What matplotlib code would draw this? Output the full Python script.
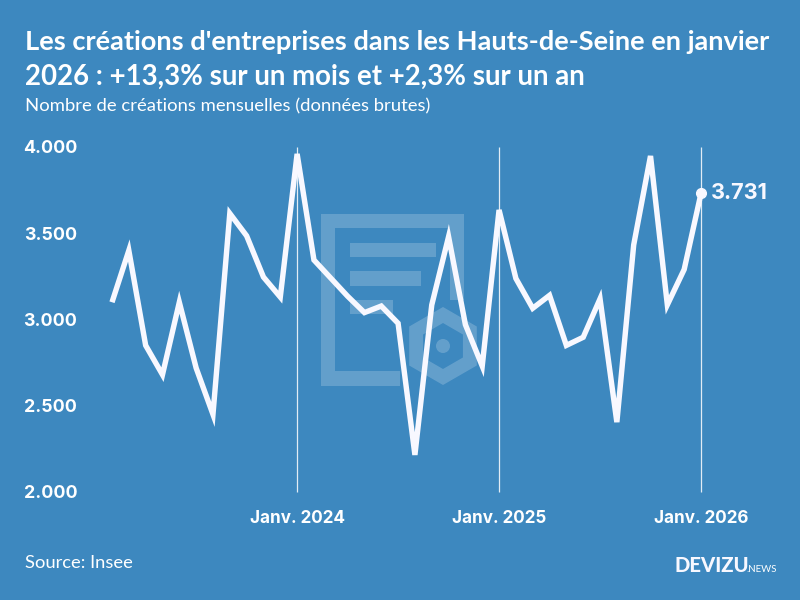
import matplotlib
matplotlib.use('Agg')
import matplotlib.pyplot as plt
import numpy as np
from matplotlib.patches import Polygon, Rectangle, Circle

plt.rcParams['font.family'] = ['Lato', 'DejaVu Sans']

BG = '#3d88bf'
WHITE = '#f8f8ff'

# fevrier 2023 -> janvier 2026
creations = [3100, 3400, 2850, 2680, 3100, 2719, 2450, 3615, 3485, 3246, 3130, 3960,
             3345, 3240, 3135, 3040, 3078, 2978, 2215, 3084, 3480, 2970, 2730, 3635,
             3238, 3065, 3140, 2850, 2897, 3120, 2405, 3432, 3948, 3085, 3290, 3731]
month_idx = list(range(len(creations)))
xtick_pos = [11, 23, 35]
xtick_labels = ['Janv. 2024', 'Janv. 2025', 'Janv. 2026']
ytick_vals = [2000, 2500, 3000, 3500, 4000]
ytick_labels = ['2.000', '2.500', '3.000', '3.500', '4.000']

fig = plt.figure(figsize=(8, 6), dpi=100, facecolor=BG)

# logo en filigrane, en pixels de la figure
bg = fig.add_axes([0, 0, 1, 1])
bg.set_xlim(0, 800)
bg.set_ylim(600, 0)
bg.axis('off')
wm = dict(facecolor='white', alpha=0.2, edgecolor='none')
bg.add_patch(Polygon([(321, 214), (464, 214), (464, 300), (450, 300), (450, 228), (335, 228),
                      (335, 371), (400, 371), (400, 386), (321, 386)], **wm))
bg.add_patch(Rectangle((350, 243), 86, 14, **wm))
bg.add_patch(Rectangle((350, 271), 71, 15, **wm))
bg.add_patch(Rectangle((350, 300), 43, 14, **wm))
hex_out = np.array([(443 + 39 * np.sin(a), 346 - 39 * np.cos(a)) for a in np.arange(6) * np.pi / 3])
hex_in = np.array([(443 + 23 * np.sin(a), 346 - 23 * np.cos(a)) for a in np.arange(6) * np.pi / 3])
ring = np.vstack([hex_out, hex_out[:1], hex_in[::-1], hex_in[-1:]])
bg.add_patch(Polygon(ring, **wm))
bg.add_patch(Circle((443, 346), 7, **wm))

# 4.000 -> y=147px, 2.000 -> y=492px
ax = fig.add_axes([112 / 800, (600 - 492) / 600, (701 - 112) / 800, 345 / 600])
ax.patch.set_alpha(0)
ax.set_xlim(0, 35)
ax.set_ylim(2000, 4000)
for s in ax.spines.values():
    s.set_visible(False)

ax.vlines(xtick_pos, 2000, 4000, color='white', lw=0.9, alpha=0.85, zorder=1, clip_on=False)
ax.plot(month_idx, creations, color=WHITE, lw=3.9, solid_joinstyle='miter', solid_capstyle='butt',
        clip_on=False, zorder=3)
ax.plot(month_idx[-1], creations[-1], 'o', color=WHITE, ms=7, clip_on=False, zorder=4)
ax.annotate('3.731', (month_idx[-1], creations[-1]), xytext=(7.2, 0), textcoords='offset points',
            color=WHITE, fontsize=15.6, fontweight='bold', family='Inter', va='center', ha='left')

ax.set_xticks(xtick_pos, xtick_labels)
ax.set_yticks(ytick_vals, ytick_labels)
ax.tick_params(axis='both', length=0, colors='white', labelsize=12.3)
ax.tick_params(axis='y', labelsize=12.8, pad=25)
ax.tick_params(axis='x', pad=13)
for lab in ax.get_xticklabels() + ax.get_yticklabels():
    lab.set_fontweight('bold')
    lab.set_family('Inter')

fig.text(25 / 800, 1 - 42 / 600, "Les créations d'entreprises dans les Hauts-de-Seine en janvier",
         color='white', fontsize=19.65, fontweight='bold', va='center')
fig.text(25 / 800, 1 - 77 / 600, '2026 : +13,3% sur un mois et +2,3% sur un an',
         color='white', fontsize=19.9, fontweight='bold', va='center')
fig.text(25 / 800, 1 - 106 / 600, 'Nombre de créations mensuelles (données brutes)',
         color='white', fontsize=13.3, va='center')
fig.text(25 / 800, 1 - 563 / 600, 'Source: Insee', color='white', fontsize=13.2, va='center')
fig.text(674 / 800, 1 - 566 / 600, 'DEVIZU', color=WHITE, fontsize=14.6, fontweight='black', va='center')
fig.text(746 / 800, 1 - 570 / 600, '.NEWS', color='white', fontsize=7, va='center')

fig.savefig('out.png', dpi=100, facecolor=BG)
